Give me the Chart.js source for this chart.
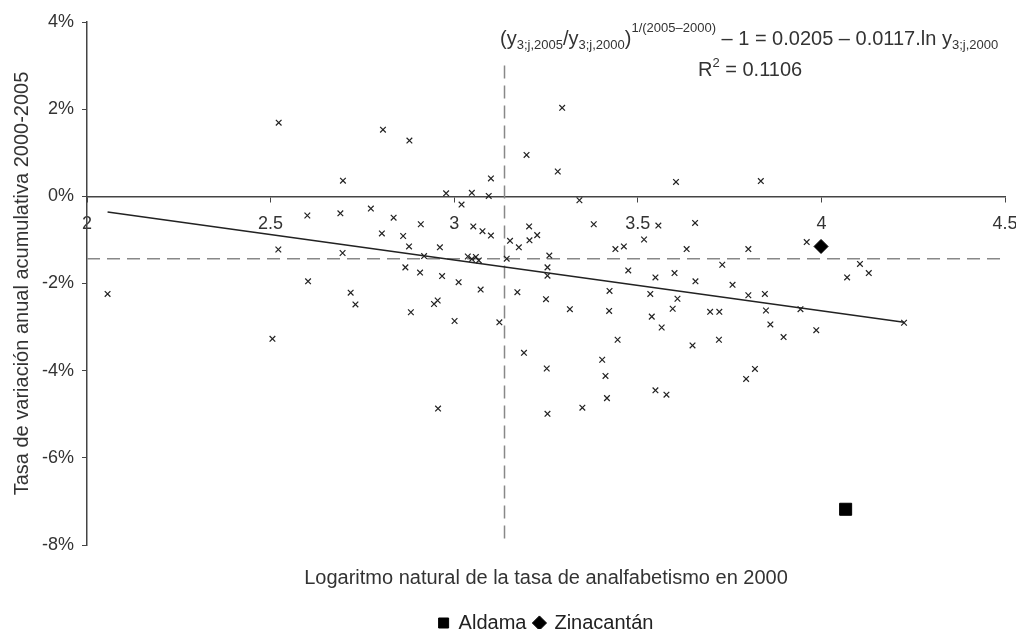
<!DOCTYPE html>
<html>
<head>
<meta charset="utf-8">
<script src="https://cdn.jsdelivr.net/npm/chart.js@4.4.1/dist/chart.umd.min.js"></script>
<style>
  html, body { margin: 0; padding: 0; background: #fff; }
  #wrap { width: 1016px; height: 629px; }
</style>
</head>
<body>
<div id="wrap"><canvas id="chart"></canvas></div>
<script>
// ln(tasa de analfabetismo 2000) and tasa de variación anual (%), one pair per municipio
const municipioX = [
  2.056, 2.522, 2.521, 2.505, 2.600, 2.602, 2.697, 2.690, 2.696, 2.718,
  2.731, 2.773, 2.806, 2.878, 2.803, 2.835, 2.861, 2.877, 2.867, 2.907,
  2.918, 2.909, 2.961, 2.967, 2.945, 2.955, 2.882, 2.956, 2.978, 3.020,
  3.001, 3.012, 3.048, 3.094, 3.100, 3.052, 3.077, 3.100, 3.037, 3.048,
  3.059, 3.067, 3.072, 3.123, 3.143, 3.152, 3.176, 3.204, 3.226, 3.205,
  3.197, 3.282, 3.294, 3.341, 3.259, 3.254, 3.254, 3.172, 3.250, 3.315,
  3.190, 3.252, 3.254, 3.349, 3.380, 3.439, 3.462, 3.517, 3.556, 3.474,
  3.548, 3.423, 3.422, 3.534, 3.538, 3.565, 3.445, 3.403, 3.412, 3.416,
  3.548, 3.578, 3.604, 3.835, 3.656, 3.633, 3.801, 3.960, 3.730, 4.105,
  4.129, 4.070, 3.600, 3.657, 3.758, 3.801, 3.846, 3.608, 3.595, 3.697,
  3.722, 3.849, 3.943, 4.225, 3.861, 3.986, 3.897, 3.649, 3.721, 3.819,
  3.795
];
const municipioY = [
  -2.24, 1.69, -1.22, -3.27, -0.44, -1.95, 0.36, -0.39, -1.30, -2.21,
  -2.48, -0.28, 1.53, 1.28, -0.85, -0.49, -0.91, -1.15, -1.63, -1.75,
  -1.37, -0.64, -1.17, -1.83, -2.47, -2.39, -2.66, -4.87, 0.07, -0.19,
  -2.86, -1.97, 0.08, 0.01, 0.41, -0.69, -0.80, -0.90, -1.38, -1.44,
  -1.39, -1.47, -2.14, -2.89, -1.43, -1.02, -1.17, -0.69, -0.89, -1.01,
  0.95, 0.57, 2.03, -0.09, -1.36, -1.63, -1.82, -2.20, -2.36, -2.59,
  -3.59, -3.95, -4.99, -4.85, -0.64, -1.21, -1.15, -0.99, -0.67, -1.70,
  -1.86, -2.17, -2.63, -2.24, -2.76, -3.01, -3.29, -3.75, -4.12, -4.63,
  -4.45, -4.55, 0.33, 0.35, -0.61, -1.21, -1.21, -1.05, -1.57, -1.55,
  -1.76, -1.86, -1.76, -1.95, -2.03, -2.27, -2.24, -2.35, -2.58, -2.65,
  -2.65, -2.62, -2.59, -2.90, -2.94, -3.07, -3.23, -3.42, -3.29, -3.96,
  -4.19
];
const aldamaX = [4.066];
const aldamaY = [-7.18];
const zinacantanX = [3.999];
const zinacantanY = [-1.15];

// regression line endpoints and the two mean lines
const trendX = [2.056, 4.225];
const trendY = [-0.36, -2.89];
const meanX = 3.137;
const meanY = -1.43;
const xRange = [2, 4.5];
const yRange = [-8, 4];
const vLineTop = 3.0;

const FONT = "'Liberation Sans', Arial, sans-serif";
const TEXT = '#333';

function toPoints(xs, ys) {
  return xs.map((x, i) => ({ x: x, y: ys[i] }));
}

const equationPlugin = {
  id: 'equation',
  afterDraw(chart) {
    const ctx = chart.ctx;
    ctx.save();
    ctx.fillStyle = TEXT;
    ctx.textBaseline = 'alphabetic';
    const big = '20px ' + FONT;
    const small = '13px ' + FONT;
    const parts = [
      ['(y', big, 0], ['3;j,2005', small, 4], ['/y', big, 0], ['3;j,2000', small, 4],
      [')', big, 0], ['1/(2005\u20132000)', small, -13],
      [' \u2013 1 = 0.0205 \u2013 0.0117.ln y', big, 0], ['3;j,2000', small, 4]
    ];
    let x = 500;
    const base = 45;
    parts.forEach(p => {
      ctx.font = p[1];
      ctx.fillText(p[0], x, base + p[2]);
      x += ctx.measureText(p[0]).width;
    });
    let x2 = 698;
    const base2 = 76;
    [['R', big, 0], ['2', small, -9], [' = 0.1106', big, 0]].forEach(p => {
      ctx.font = p[1];
      ctx.fillText(p[0], x2, base2 + p[2]);
      x2 += ctx.measureText(p[0]).width;
    });
    ctx.restore();
  }
};

const ctx = document.getElementById('chart').getContext('2d');
new Chart(ctx, {
  type: 'scatter',
  data: {
    datasets: [
      {
        label: 'Municipios',
        data: toPoints(municipioX, municipioY),
        pointStyle: 'crossRot',
        pointRadius: 4,
        pointBorderWidth: 1.2,
        borderColor: '#222',
        backgroundColor: '#222'
      },
      {
        label: 'Aldama',
        data: toPoints(aldamaX, aldamaY),
        pointStyle: 'rect',
        pointRadius: 8.5,
        borderColor: '#000',
        backgroundColor: '#000'
      },
      {
        label: 'Zinacantán',
        data: toPoints(zinacantanX, zinacantanY),
        pointStyle: 'rectRot',
        pointRadius: 7,
        borderColor: '#000',
        backgroundColor: '#000'
      },
      {
        label: 'Tendencia',
        data: toPoints(trendX, trendY),
        showLine: true,
        pointRadius: 0,
        borderColor: '#222',
        borderWidth: 1.5
      },
      {
        label: 'Media x',
        data: [{ x: meanX, y: vLineTop }, { x: meanX, y: yRange[0] }],
        showLine: true,
        pointRadius: 0,
        borderColor: '#888',
        borderWidth: 1.5,
        borderDash: [13, 7]
      },
      {
        label: 'Media y',
        data: [{ x: xRange[0], y: meanY }, { x: xRange[1], y: meanY }],
        showLine: true,
        pointRadius: 0,
        borderColor: '#888',
        borderWidth: 1.5,
        borderDash: [13, 7]
      }
    ]
  },
  options: {
    responsive: true,
    maintainAspectRatio: false,
    animation: false,
    layout: { padding: { left: 10, right: 11, top: 22, bottom: -14 } },
    scales: {
      x: {
        type: 'linear',
        position: { y: 0 },
        min: xRange[0],
        max: xRange[1],
        afterFit: s => { s.paddingLeft = 0; s.paddingRight = 0; },
        ticks: {
          stepSize: 0.5,
          padding: 12,
          color: TEXT,
          font: { family: FONT, size: 18 },
          maxRotation: 0,
          callback: v => String(Math.round(v * 10) / 10)
        },
        grid: { display: true, drawOnChartArea: false, tickLength: 5, color: '#444' },
        border: { display: true, color: '#444', width: 1.5 }
      },
      y: {
        min: yRange[0],
        max: yRange[1],
        ticks: {
          stepSize: 2,
          padding: 8,
          color: TEXT,
          font: { family: FONT, size: 18 },
          callback: v => v + '%'
        },
        grid: { display: true, drawOnChartArea: false, tickLength: 5, color: '#444' },
        border: { display: true, color: '#444', width: 1.5 },
        title: {
          display: true,
          text: 'Tasa de variación anual acumulativa 2000-2005',
          color: TEXT,
          font: { family: FONT, size: 20 },
          padding: { top: 0, bottom: 0 }
        }
      }
    },
    plugins: {
      tooltip: { enabled: false },
      title: {
        display: true,
        text: 'Logaritmo natural de la tasa de analfabetismo en 2000',
        position: 'bottom',
        weight: 500,
        fullSize: false,
        color: TEXT,
        font: { family: FONT, size: 20, weight: 'normal' },
        padding: { top: 21, bottom: 15 }
      },
      legend: {
        position: 'bottom',
        fullSize: false,
        labels: {
          usePointStyle: true,
          boxWidth: 10,
          boxHeight: 10,
          padding: 8,
          color: '#222',
          font: { family: FONT, size: 20 },
          filter: item => item.text === 'Aldama' || item.text === 'Zinacantán'
        }
      }
    }
  },
  plugins: [equationPlugin]
});
</script>
</body>
</html>
